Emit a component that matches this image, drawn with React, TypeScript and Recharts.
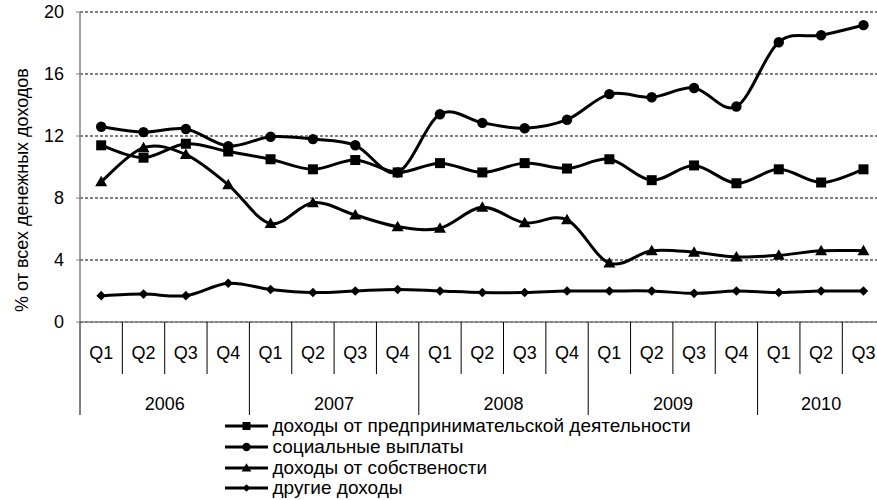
import React from 'react';
import { LineChart, Line, XAxis, YAxis, CartesianGrid, Legend } from 'recharts';

const quarters = ['Q1','Q2','Q3','Q4','Q1','Q2','Q3','Q4','Q1','Q2','Q3','Q4','Q1','Q2','Q3','Q4','Q1','Q2','Q3'];
const years = ['2006','2007','2008','2009','2010'];
const entrepreneurial = [11.4,10.6,11.5,11.0,10.5,9.85,10.45,9.65,10.25,9.65,10.25,9.9,10.5,9.15,10.1,8.95,9.85,9.0,9.85];
const social = [12.6,12.25,12.45,11.35,11.95,11.8,11.4,9.65,13.4,12.85,12.5,13.05,14.7,14.5,15.1,13.9,18.05,18.5,19.15];
const property = [9.05,11.25,10.8,8.85,6.35,7.7,6.9,6.15,6.05,7.4,6.4,6.6,3.8,4.6,4.5,4.2,4.3,4.6,4.6];
const other = [1.7,1.8,1.7,2.5,2.1,1.9,2.0,2.1,2.0,1.9,1.9,2.0,2.0,2.0,1.85,2.0,1.9,2.0,2.0];
const seriesNames = [
  'доходы от предпринимательской деятельности',
  'социальные выплаты',
  'доходы от собствености',
  'другие доходы',
];
const yTicks = [0, 4, 8, 12, 16, 20];
const yLabel = '% от всех денежных доходов';

let yi = -1;
const data = quarters.map((q, i) => {
  if (q === 'Q1') yi++;
  return { q, year: years[yi], s0: entrepreneurial[i], s1: social[i], s2: property[i], s3: other[i] };
});

const CHART_W = 900;
const CHART_H = 500;
const Y_AXIS_W = 80;
const BAND = 42.35;
const MARGIN_RIGHT = CHART_W - Y_AXIS_W - BAND * data.length;
const FONT = '"Liberation Sans", Arial, sans-serif';

// Catmull-Rom style smoothing like spreadsheet "smoothed line"
const smoothCurve: any = (context: any) => {
  let pts: number[][] = [];
  return {
    areaStart() {},
    areaEnd() {},
    lineStart() { pts = []; },
    point(x: number, y: number) { pts.push([+x, +y]); },
    lineEnd() {
      if (!pts.length) return;
      context.moveTo(pts[0][0], pts[0][1]);
      const t = 1 / 6;
      for (let i = 0; i < pts.length - 1; i++) {
        const p0 = pts[i - 1] || pts[i];
        const p1 = pts[i];
        const p2 = pts[i + 1];
        const p3 = pts[i + 2] || p2;
        context.bezierCurveTo(
          p1[0] + (p2[0] - p0[0]) * t, p1[1] + (p2[1] - p0[1]) * t,
          p2[0] - (p3[0] - p1[0]) * t, p2[1] - (p3[1] - p1[1]) * t,
          p2[0], p2[1]
        );
      }
    },
  };
};

const SquareDot = (p: any) => p.cx == null ? null : <rect x={p.cx - 5} y={p.cy - 5} width={10} height={10} fill="#000" />;
const CircleDot = (p: any) => p.cx == null ? null : <circle cx={p.cx} cy={p.cy} r={5.2} fill="#000" />;
const TriDot = (p: any) => p.cx == null ? null : (
  <polygon points={`${p.cx},${p.cy - 6} ${p.cx - 6},${p.cy + 4.5} ${p.cx + 6},${p.cy + 4.5}`} fill="#000" />
);
const DiamondDot = (p: any) => p.cx == null ? null : (
  <polygon points={`${p.cx},${p.cy - 4.8} ${p.cx + 4.8},${p.cy} ${p.cx},${p.cy + 4.8} ${p.cx - 4.8},${p.cy}`} fill="#000" />
);
const markers = [SquareDot, CircleDot, TriDot, DiamondDot];

const QuarterTick = (props: any) => {
  const { x, y, index } = props;
  const row = data[index];
  if (!row) return null;
  const half = BAND / 2;
  const isYearStart = row.q === 'Q1';
  const n = data.filter((d) => d.year === row.year).length;
  return (
    <g>
      <line x1={x - half} x2={x - half} y1={y} y2={y + (isYearStart || index === 0 ? 93 : 52)} stroke="#000" strokeWidth={1} />
      {index === data.length - 1 && (
        <line x1={x + half} x2={x + half} y1={y} y2={y + 93} stroke="#000" strokeWidth={1} />
      )}
      <text x={x} y={y + 37} textAnchor="middle" fontSize={18} fill="#000" fontFamily={FONT}>{row.q}</text>
      {(isYearStart || index === 0) && (
        <text x={x + ((n - 1) / 2) * BAND} y={y + 88} textAnchor="middle" fontSize={18} fill="#000" fontFamily={FONT}>{row.year}</text>
      )}
    </g>
  );
};

const YLabel = () => (
  <text x={22} y={190} transform="rotate(-90, 22, 190)" textAnchor="middle" dominantBaseline="central" fontSize={18} fill="#000" fontFamily={FONT}>
    {yLabel}
  </text>
);

const LegendContent = () => (
  <div style={{ fontFamily: FONT, fontSize: 19, color: '#000' }}>
    {seriesNames.map((name, i) => {
      const M = markers[i];
      return (
        <div key={name} style={{ display: 'flex', alignItems: 'center', height: 20.7, whiteSpace: 'nowrap' }}>
          <svg width={49} height={20} style={{ display: 'block' }}>
            <line x1={3} x2={46} y1={10} y2={10} stroke="#000" strokeWidth={3} />
            <g transform="translate(24.5,10) scale(0.8) translate(-24.5,-10)">
              <M cx={24.5} cy={10} />
            </g>
          </svg>
          <span style={{ lineHeight: '20px', marginLeft: 1.5 }}>{name}</span>
        </div>
      );
    })}
  </div>
);

export default function App() {
  return (
    <div style={{ position: 'absolute', left: 0, top: 0, width: 877, height: 500, overflow: 'hidden', background: '#fff', fontFamily: FONT }}>
      <LineChart width={CHART_W} height={CHART_H} data={data} margin={{ top: 12, right: MARGIN_RIGHT, bottom: 78, left: 0 }}>
        <CartesianGrid vertical={false} stroke="#000" strokeDasharray="3 2" />
        <XAxis
          dataKey="q"
          interval={0}
          height={100}
          tickSize={0}
          tickMargin={0}
          padding={{ left: BAND / 2, right: BAND / 2 }}
          axisLine={{ stroke: '#808080', strokeWidth: 1.5 }}
          tickLine={false}
          tick={<QuarterTick />}
        />
        <YAxis
          domain={[0, 20]}
          ticks={yTicks}
          width={Y_AXIS_W}
          tickSize={4}
          tickMargin={12}
          axisLine={{ stroke: '#808080', strokeWidth: 1.5 }}
          tickLine={{ stroke: '#808080' }}
          tick={{ fill: '#000', fontSize: 18, fontFamily: FONT }}
          label={<YLabel />}
        />
        <Legend
          layout="vertical"
          align="center"
          verticalAlign="middle"
          content={<LegendContent />}
          wrapperStyle={{ position: 'absolute', left: 222, top: 416, width: 540, height: 84 }}
        />
        {['s0', 's1', 's2', 's3'].map((k, i) => {
          const M = markers[i];
          return (
            <Line
              key={k}
              dataKey={k}
              name={seriesNames[i]}
              type={smoothCurve}
              stroke="#000"
              strokeWidth={3}
              dot={<M />}
              activeDot={false}
              isAnimationActive={false}
            />
          );
        })}
      </LineChart>
    </div>
  );
}
